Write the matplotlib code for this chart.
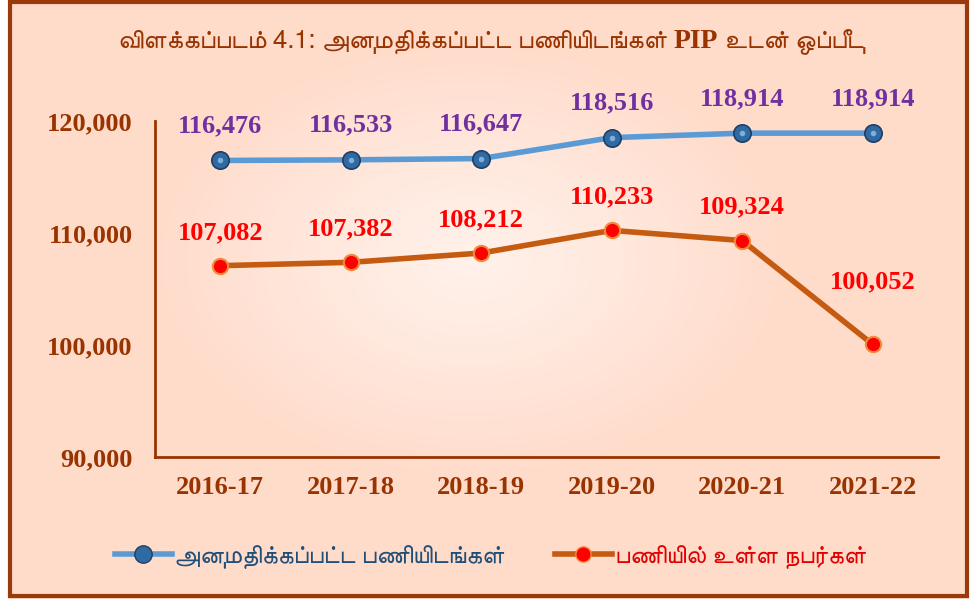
import numpy as np
import matplotlib
matplotlib.use('Agg')
import matplotlib.pyplot as plt
from matplotlib import font_manager
from matplotlib.ft2font import FT2Font
from matplotlib.lines import Line2D
from matplotlib.patches import Rectangle

# data
years = ['2016-17', '2017-18', '2018-19', '2019-20', '2020-21', '2021-22']
sanctioned = [116476, 116533, 116647, 118516, 118914, 118914]
working = [107082, 107382, 108212, 110233, 109324, 100052]
yticks = [90000, 100000, 110000, 120000]

title_a = 'விளக்கப்படம் 4.1: அனுமதிக்கப்பட்ட பணியிடங்கள் '
title_b = 'PIP'
title_c = ' உடன் ஒப்பீடு'
label_sanctioned = 'அனுமதிக்கப்பட்ட பணியிடங்கள்'
label_working = 'பணியில் உள்ள நபர்கள்'


def find_tamil_font():
    # installed fonts with Tamil glyphs, prefer a proportional sans one
    found = []
    for f in font_manager.fontManager.ttflist:
        try:
            if 0x0B85 in FT2Font(f.fname).get_charmap():
                found.append(f.name)
        except Exception:
            pass
    if not found:
        return ['DejaVu Sans']
    found.sort(key=lambda n: ('Mono' in n, 'Serif' in n, 'Sans' not in n))
    return [found[0], 'DejaVu Sans']


tamil = find_tamil_font()
serif = 'Liberation Serif'
brown = '#993300'

W, H = 971, 599
fig = plt.figure(figsize=(W / 100, H / 100), dpi=100)

# background with soft light spot in the middle
bg = fig.add_axes([0, 0, 1, 1], zorder=-10)
bg.set_axis_off()
yy, xx = np.mgrid[0:H, 0:W]
d = np.sqrt(((xx - 470) / 320.0) ** 2 + ((yy - 260) / 220.0) ** 2)
t = np.clip(d, 0, 1) ** 1.2
c0 = np.array([255, 241, 234]) / 255.0
c1 = np.array([255, 219, 202]) / 255.0
img = c0[None, None, :] * (1 - t[..., None]) + c1[None, None, :] * t[..., None]
img[:, :8] = 1
img[:, 969:] = 1
bg.imshow(img, extent=(0, W, H, 0), aspect='auto')
bg.set_xlim(0, W)
bg.set_ylim(H, 0)
bg.add_patch(Rectangle((10, 2), 957, 594, fill=False, edgecolor='#9A3A0A', lw=3))

ax = fig.add_axes([155 / W, 1 - 457 / H, (938 - 155) / W, (457 - 121) / H])
ax.patch.set_alpha(0)
x = np.arange(len(years))

ax.plot(x, sanctioned, color='#5B9BD5', lw=4, zorder=3)
ax.plot(x, sanctioned, ls='none', marker='o', ms=12.5, mfc='#2F6AA3',
        mec='#1F3F66', mew=1.2, zorder=4)
ax.plot(x, sanctioned, ls='none', marker='o', ms=4, mfc='#7FAEDB',
        mec='none', zorder=5)
ax.plot(x, working, color='#C55A11', lw=4, zorder=3)
ax.plot(x, working, ls='none', marker='o', ms=11, mfc='#FF0000',
        mec='#F28A3A', mew=1.5, zorder=4)

for i, v in enumerate(sanctioned):
    ax.annotate(f'{v:,}', (i, v), xytext=(0, 25), textcoords='offset points',
                ha='center', va='center', color='#7030A0', fontsize=19,
                fontweight='bold', family=serif)
lab_off = [24, 24, 24, 24, 24, 45]
for i, v in enumerate(working):
    ax.annotate(f'{v:,}', (i, v), xytext=(0, lab_off[i]), textcoords='offset points',
                ha='center', va='center', color='#FF0000', fontsize=19,
                fontweight='bold', family=serif)

ax.set_xlim(-0.5, len(years) - 0.5)
ax.set_ylim(90000, 120000)
ax.set_xticks(x)
ax.set_xticklabels(years)
ax.set_yticks(yticks)
ax.set_yticklabels([f'{v:,}' for v in yticks])
ax.tick_params(length=0, labelcolor=brown, labelsize=19)
ax.tick_params(axis='y', pad=16)
ax.tick_params(axis='x', pad=14)
for lab in ax.get_xticklabels() + ax.get_yticklabels():
    lab.set_family(serif)
    lab.set_fontweight('bold')
for s in ['top', 'right']:
    ax.spines[s].set_visible(False)
for s in ['left', 'bottom']:
    ax.spines[s].set_color(brown)
    ax.spines[s].set_linewidth(2)

# title in three pieces, "PIP" in bold serif
t1 = fig.text(118 / W, 1 - 42 / H, title_a, ha='left', va='center', color=brown,
              fontsize=18.8, family=tamil)
t2 = fig.add_artist(plt.Annotation(title_b, xy=(1, 0.5), xycoords=t1, ha='left',
                                   va='center', color=brown, fontsize=20,
                                   fontweight='bold', family=serif))
t3 = fig.add_artist(plt.Annotation(title_c, xy=(1, 0.5), xycoords=t2, ha='left',
                                   va='center', color=brown, fontsize=18.8,
                                   family=tamil))

h1 = Line2D([], [], color='#5B9BD5', lw=4, marker='o', ms=12.5, mfc='#2F6AA3', mec='#1F3F66')
h2 = Line2D([], [], color='#C55A11', lw=4, marker='o', ms=11, mfc='#FF0000', mec='#F28A3A')
leg = fig.legend([h1, h2], [label_sanctioned, label_working], loc='center left',
                 bbox_to_anchor=(92 / W, 1 - 556 / H), ncol=2, frameon=False,
                 handlelength=2.3, columnspacing=2.0, handletextpad=0.1,
                 prop={'family': tamil, 'size': 18})
leg.get_texts()[0].set_color('#1F4E79')
leg.get_texts()[1].set_color('#E00000')

fig.savefig('out.png', dpi=100)
